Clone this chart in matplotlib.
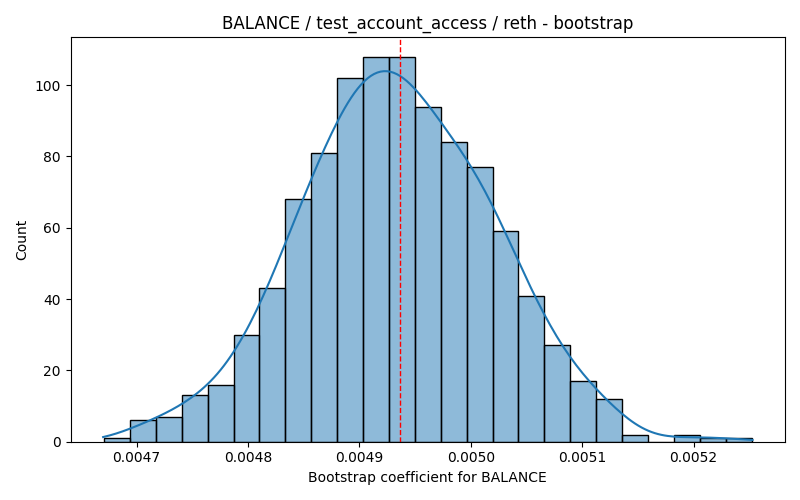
import matplotlib
matplotlib.use("Agg")
import matplotlib.pyplot as plt
import numpy as np
import seaborn as sns

# histogram: 25 bins between the bootstrap min and max
bin_lo = 0.0046708
bin_hi = 0.0052521
counts = [1, 6, 7, 13, 16, 30, 43, 68, 81, 102, 108, 108, 94,
          84, 77, 59, 41, 27, 17, 12, 2, 0, 2, 1, 1]
mean_coef = 0.0049363

edges = np.linspace(bin_lo, bin_hi, len(counts) + 1)
centers = (edges[:-1] + edges[1:]) / 2
samples = np.repeat(centers, counts)

fig, ax = plt.subplots(figsize=(8, 5))
sns.histplot(samples, bins=edges, kde=True, edgecolor="black", ax=ax,
             kde_kws={"cut": 0.5, "bw_adjust": 1.15})
ax.axvline(mean_coef, color="red", linestyle="--", linewidth=1)
ax.set_title("BALANCE / test_account_access / reth - bootstrap")
ax.set_xlabel("Bootstrap coefficient for BALANCE")
ax.set_ylabel("Count")
plt.tight_layout()
plt.savefig("out.png", dpi=100)
plt.close()
